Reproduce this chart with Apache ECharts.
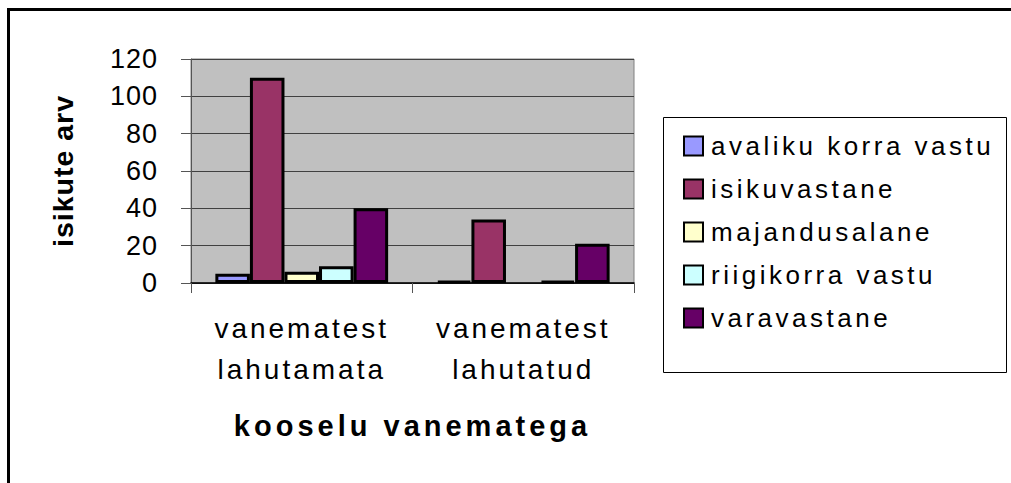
<!DOCTYPE html>
<html><head><meta charset="utf-8">
<script src="https://cdn.jsdelivr.net/npm/echarts@6/dist/echarts.min.js"></script>
<style>
html,body{margin:0;padding:0;background:#fff;overflow:hidden}
#c{width:1011px;height:483px}
#c text[style*="27px"]{letter-spacing:1px}
#c text[style*="28.5px"]{letter-spacing:1px}
#c text[style*="28px"]{letter-spacing:3px}
#c text[style*="29px"]{letter-spacing:4px}
#c text[style*="26px"]{letter-spacing:3.5px}
</style>
</head><body>
<div id="c"></div>
<script>
const categories = ['vanematest\nlahutamata', 'vanematest\nlahutatud'];
const seriesNames = ['avaliku korra vastu', 'isikuvastane', 'majandusalane', 'riigikorra vastu', 'varavastane'];
const avalikuKorraVastu = [5, 1];
const isikuvastane = [110, 34];
const majandusalane = [6, 0];
const riigikorraVastu = [9, 1];
const varavastane = [40, 21];
const yTicks = [0, 20, 40, 60, 80, 100, 120];
const xTitle = 'kooselu vanematega';
const yTitle = 'isikute arv';

const colors = ['#9999FF', '#993366', '#FFFFCC', '#CCFFFF', '#660066'];
const seriesData = [avalikuKorraVastu, isikuvastane, majandusalane, riigikorraVastu, varavastane];
const F = "'Liberation Sans', Arial, sans-serif";

const chart = echarts.init(document.getElementById('c'), null, {renderer: 'svg'});
chart.setOption({
  animation: false,
  backgroundColor: '#ffffff',
  grid: {left: 191, right: 377, top: 59, bottom: 200, show: true,
         backgroundColor: '#c0c0c0', borderColor: '#808080', borderWidth: 1},
  xAxis: {
    type: 'category', data: categories,
    name: xTitle, nameLocation: 'middle', nameGap: 128,
    nameTextStyle: {fontFamily: F, fontSize: 29, fontWeight: 'bold', color: '#000'},
    axisLine: {lineStyle: {color: '#000', width: 1.5}},
    axisTick: {show: true, length: 10, lineStyle: {color: '#555'}},
    axisLabel: {margin: 25, fontFamily: F, fontSize: 28, lineHeight: 41, color: '#000', interval: 0}
  },
  yAxis: {
    type: 'value', min: yTicks[0], max: yTicks[yTicks.length - 1], interval: yTicks[1] - yTicks[0],
    name: yTitle, nameLocation: 'middle', nameGap: 114,
    nameTextStyle: {fontFamily: F, fontSize: 28.5, fontWeight: 'bold', color: '#000'},
    axisLine: {show: true, lineStyle: {color: '#555', width: 1}},
    axisTick: {show: true, length: 10, lineStyle: {color: '#555'}},
    axisLabel: {margin: 33, fontFamily: F, fontSize: 27, color: '#000'},
    splitLine: {show: true, lineStyle: {color: '#404040', width: 1}}
  },
  legend: {
    orient: 'vertical', left: 678, top: 128, itemWidth: 19, itemHeight: 19, itemGap: 17,
    icon: 'rect',
    data: seriesNames,
    itemStyle: {borderColor: '#000', borderWidth: 2},
    textStyle: {fontFamily: F, fontSize: 26, color: '#000', padding: [0, 0, 0, 3]}
  },
  graphic: [
    {type: 'rect', shape: {x: 8.5, y: 9.5, width: 1100, height: 600}, style: {fill: 'none', stroke: '#000', lineWidth: 3}, silent: true},
    {type: 'rect', shape: {x: 663.5, y: 117.5, width: 343, height: 255}, style: {fill: 'none', stroke: '#000', lineWidth: 1}, silent: true}
  ],
  series: seriesNames.map((n, i) => ({
    name: n, type: 'bar',
    data: seriesData[i].map(v => v === 0 ? {value: v, itemStyle: {borderWidth: 0}} : v),
    barGap: '0%', barCategoryGap: '22%',
    itemStyle: {color: colors[i], borderColor: '#000', borderWidth: 3}
  }))
});
</script>
</body></html>
